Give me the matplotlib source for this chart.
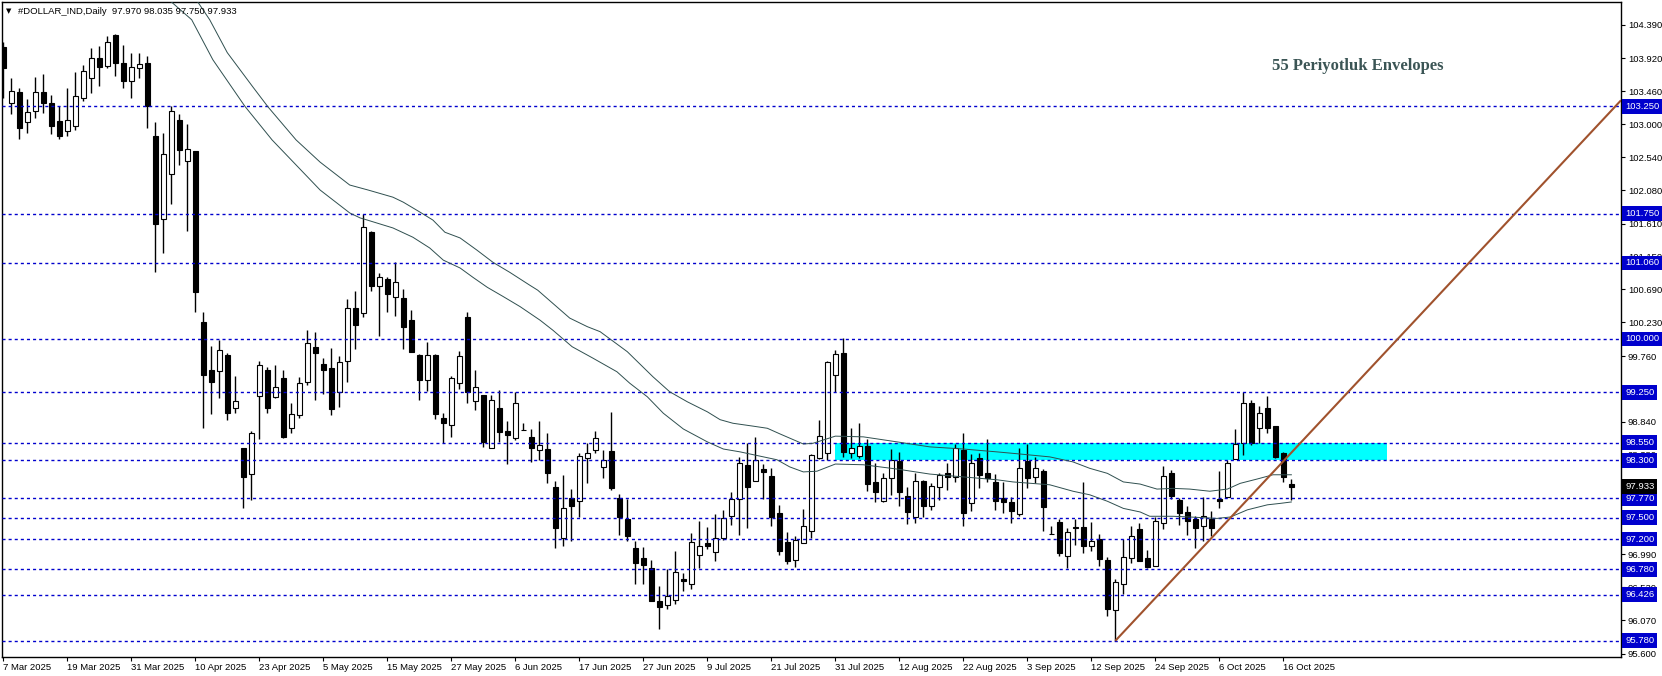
"""
DOLLAR_IND daily candles with 55-period envelopes,
support/resistance levels, a supply box and a rising trend line.
Saves out.png
"""

import matplotlib
matplotlib.use("Agg")
import matplotlib.pyplot as plt
from matplotlib.patches import Rectangle


# ---------- Data ----------
opens = [
    104.08, 103.29, 103.45, 103.03, 103.18, 103.45, 103.29, 103.04, 102.90, 102.98,
    103.36, 103.64, 103.93, 103.82, 104.24, 103.86, 103.61, 103.78, 103.85, 102.84,
    101.67, 102.30, 103.06, 102.48, 102.62, 100.23, 99.57, 99.55, 99.77, 99.03,
    98.47, 98.11, 99.20, 99.56, 99.19, 99.45, 98.75, 98.93, 99.39, 99.88,
    99.65, 99.59, 99.25, 99.69, 100.43, 100.36, 101.49, 100.74, 100.83, 100.58,
    100.57, 100.26, 99.77, 99.43, 99.77, 98.89, 98.79, 99.38, 100.31, 99.13,
    99.22, 98.48, 99.04, 98.71, 98.61, 98.72, 98.63, 98.45, 98.46, 97.93,
    97.22, 97.78, 97.74, 98.34, 98.44, 98.21, 98.43, 97.78, 97.48, 97.08,
    96.94, 96.79, 96.33, 96.28, 96.35, 96.64, 96.58, 96.98, 97.14, 97.02,
    97.21, 97.52, 97.76, 98.24, 98.01, 98.18, 98.08, 97.56, 97.16, 96.91,
    97.15, 97.31, 98.33, 98.40, 99.49, 99.80, 98.40, 98.36, 98.50, 98.00,
    97.74, 98.05, 98.29, 97.81, 97.51, 98.01, 97.66, 97.93, 98.13, 98.07,
    98.45, 97.70, 98.34, 98.12, 98.00, 97.77, 97.72, 97.55, 98.29, 98.07,
    98.15, 97.27, 97.44, 96.96, 97.37, 97.37, 97.11, 97.20, 96.91, 96.21,
    96.57, 96.93, 97.34, 96.93, 96.82, 97.42, 98.13, 97.75, 97.58, 97.48,
    97.38, 97.48, 97.76, 97.79, 98.32, 98.54, 99.10, 98.75, 99.03, 98.78,
    98.41, 97.970,
]
highs = [
    104.15, 103.64, 103.50, 103.35, 103.66, 103.70, 103.41, 103.25, 103.50, 103.73,
    103.83, 104.07, 104.09, 104.23, 104.26, 104.11, 104.00, 104.00, 103.95, 103.03,
    102.88, 103.25, 103.14, 103.00, 102.63, 100.37, 99.90, 99.98, 99.80, 99.48,
    98.47, 98.71, 99.69, 99.61, 99.64, 99.57, 99.11, 99.46, 100.13, 100.09,
    99.73, 99.87, 99.76, 100.56, 100.67, 101.75, 101.51, 100.92, 100.86, 101.07,
    100.70, 100.40, 99.79, 99.96, 99.79, 98.96, 99.48, 99.83, 100.37, 99.56,
    99.22, 99.22, 99.28, 98.85, 99.26, 98.82, 98.74, 98.85, 98.69, 98.01,
    98.10, 97.90, 98.40, 98.55, 98.71, 98.44, 98.98, 97.83, 97.76, 97.18,
    97.09, 96.91, 96.55, 96.78, 97.04, 96.73, 97.28, 97.45, 97.37, 97.55,
    97.61, 97.86, 98.35, 98.55, 98.63, 98.25, 98.19, 97.68, 97.30, 97.24,
    97.62, 98.39, 98.87, 99.69, 99.84, 100.01, 98.75, 98.83, 98.60, 98.26,
    98.13, 98.46, 98.42, 97.93, 98.13, 98.02, 97.99, 98.13, 98.26, 98.53,
    98.68, 98.39, 98.41, 98.60, 98.11, 98.00, 97.79, 98.48, 98.53, 98.35,
    98.18, 97.38, 97.48, 97.36, 97.48, 98.00, 97.44, 97.27, 96.95, 96.64,
    97.20, 97.39, 97.42, 97.05, 97.51, 98.22, 98.17, 97.77, 97.67, 97.52,
    97.79, 97.60, 98.15, 98.31, 98.74, 99.25, 99.14, 99.06, 99.20, 98.78,
    98.42, 98.035,
]
lows = [
    103.36, 103.14, 102.79, 102.88, 103.09, 103.16, 102.87, 102.79, 102.84, 102.92,
    103.33, 103.43, 103.54, 103.78, 103.68, 103.50, 103.36, 103.64, 102.95, 100.93,
    101.20, 101.88, 102.43, 101.51, 100.38, 98.75, 98.95, 99.18, 98.87, 98.97,
    97.63, 97.75, 98.60, 98.96, 99.18, 98.61, 98.68, 98.89, 99.36, 99.15,
    99.23, 98.93, 99.05, 99.39, 99.86, 100.30, 100.67, 100.04, 100.38, 100.32,
    99.86, 99.82, 99.15, 99.27, 98.88, 98.54, 98.63, 99.30, 99.10, 99.01,
    98.49, 98.48, 98.56, 98.25, 98.59, 98.72, 98.28, 98.31, 97.98, 97.08,
    97.11, 97.18, 97.51, 97.98, 98.40, 98.06, 97.89, 97.26, 97.18, 96.57,
    96.57, 96.34, 95.95, 96.23, 96.30, 96.47, 96.51, 96.79, 97.06, 96.90,
    97.19, 97.40, 97.26, 97.35, 98.01, 97.76, 97.38, 96.98, 96.85, 96.81,
    97.14, 97.21, 98.32, 98.30, 99.25, 98.35, 98.34, 98.33, 97.88, 97.72,
    97.72, 97.82, 97.67, 97.41, 97.42, 97.51, 97.61, 97.75, 97.89, 98.00,
    97.38, 97.59, 97.92, 98.00, 97.61, 97.56, 97.42, 97.52, 97.91, 97.98,
    97.31, 97.27, 96.96, 96.79, 97.12, 97.01, 97.04, 96.82, 96.13, 95.78,
    96.43, 96.86, 96.90, 96.79, 96.82, 97.34, 97.76, 97.40, 97.26, 97.08,
    97.17, 97.25, 97.64, 97.79, 98.32, 98.38, 98.52, 98.54, 98.69, 98.34,
    98.00, 97.750,
]
closes = [
    103.79, 103.47, 102.95, 103.17, 103.45, 103.30, 102.98, 102.83, 103.06, 103.39,
    103.75, 103.92, 103.80, 104.15, 103.85, 103.60, 103.80, 103.84, 103.25, 101.60,
    102.58, 103.18, 102.64, 102.66, 100.65, 99.50, 99.40, 99.85, 98.97, 99.13,
    98.07, 98.68, 99.64, 99.03, 99.32, 98.63, 98.95, 99.38, 99.94, 99.80,
    99.56, 99.02, 99.67, 100.43, 100.20, 101.56, 100.74, 100.86, 100.62, 100.79,
    100.17, 99.82, 99.42, 99.78, 98.95, 98.83, 99.45, 99.76, 99.25, 99.33,
    98.56, 99.15, 98.70, 98.65, 99.11, 98.72, 98.48, 98.52, 98.12, 97.35,
    97.63, 97.66, 98.36, 98.40, 98.61, 98.30, 97.92, 97.51, 97.24, 96.87,
    96.84, 96.34, 96.25, 96.41, 96.74, 96.61, 97.16, 97.10, 97.10, 97.21,
    97.50, 97.76, 98.27, 97.93, 98.31, 98.14, 97.51, 97.04, 96.89, 97.19,
    97.38, 98.38, 98.64, 99.68, 99.79, 98.42, 98.48, 98.50, 97.97, 97.86,
    98.05, 98.30, 97.86, 97.58, 98.01, 97.66, 97.95, 98.10, 98.07, 98.48,
    97.56, 98.27, 98.09, 98.05, 97.74, 97.72, 97.60, 98.20, 98.05, 98.19,
    97.65, 97.27, 97.00, 97.30, 97.36, 97.10, 97.17, 96.92, 96.23, 96.60,
    96.95, 97.25, 96.90, 96.81, 97.46, 98.08, 97.81, 97.57, 97.46, 97.36,
    97.53, 97.36, 97.74, 98.26, 98.53, 99.10, 98.54, 98.96, 98.76, 98.35,
    98.07, 97.933,
]

# envelope lines (bar position, price)
env_upper_x = [23.6, 24.3, 25.8, 28.0, 31.2, 33.1, 36.6, 39.6, 43.3, 45.6,
               48.7, 50.0, 52.1, 53.7, 55.2, 57.1, 59.2, 61.2, 63.3, 65.8,
               66.8, 70.8, 73.0, 74.6, 78.0, 81.2, 83.3, 85.5, 88.0, 89.6,
               91.2, 93.7, 95.5, 97.1, 100.0, 101.2, 104.0, 107.5, 111.7, 115.8,
               120.0, 124.2, 127.1, 130.8, 133.7, 135.8, 138.0, 140.0, 142.1, 144.2,
               146.2, 148.3, 150.8, 153.0, 154.6, 156.7, 158.7, 161.0]
env_upper = [104.81, 104.71, 104.46, 104.00, 103.52, 103.24, 102.78, 102.47, 102.15, 102.08,
             101.98, 101.91, 101.77, 101.66, 101.49, 101.41, 101.24, 101.07, 100.93, 100.75,
             100.68, 100.29, 100.17, 100.10, 99.82, 99.47, 99.26, 99.12, 98.98, 98.87,
             98.82, 98.78, 98.75, 98.67, 98.53, 98.54, 98.64, 98.63, 98.56, 98.49,
             98.46, 98.42, 98.39, 98.35, 98.28, 98.19, 98.12, 98.00, 97.97, 97.90,
             97.91, 97.90, 97.87, 97.90, 97.98, 98.04, 98.10, 98.10]
env_lower_x = [20.2, 21.0, 23.55, 26.2, 30.2, 33.6, 39.6, 43.3, 44.6, 45.5,
               48.7, 51.2, 53.3, 55.0, 57.1, 58.7, 60.5, 62.5, 64.6, 67.1,
               68.7, 71.1, 73.7, 76.7, 78.3, 80.5, 82.5, 85.0, 88.0, 90.0,
               92.1, 94.6, 96.7, 98.3, 100.0, 101.7, 104.0, 107.5, 111.7, 115.8,
               120.0, 124.2, 126.2, 130.8, 133.7, 135.8, 138.0, 140.0, 142.1, 143.3,
               146.2, 148.3, 151.7, 153.4, 155.5, 158.0, 159.6, 161.0]
env_lower = [104.81, 104.71, 104.46, 103.90, 103.25, 102.78, 102.08, 101.76, 101.69, 101.66,
             101.55, 101.42, 101.27, 101.10, 100.99, 100.86, 100.72, 100.59, 100.45, 100.26,
             100.12, 99.89, 99.73, 99.54, 99.38, 99.19, 98.96, 98.74, 98.56, 98.46,
             98.42, 98.36, 98.31, 98.21, 98.14, 98.15, 98.25, 98.24, 98.18, 98.11,
             98.07, 98.03, 98.00, 97.96, 97.87, 97.82, 97.73, 97.63, 97.58, 97.52,
             97.52, 97.51, 97.49, 97.51, 97.61, 97.68, 97.70, 97.72]

levels = [103.25, 101.75, 101.06, 100.00, 99.25, 98.55, 98.30, 97.77, 97.50,
          97.20, 96.78, 96.426, 95.78]
level_labels = ["103.250", "101.750", "101.060", "100.000", "99.250", "98.550",
                "98.300", "97.770", "97.500", "97.200", "96.780", "96.426", "95.780"]

price_ticks = [104.39, 103.92, 103.46, 103.00, 102.54, 102.08, 101.61, 101.15, 100.69,
               100.23, 99.76, 99.30, 98.84, 98.38, 97.92, 97.45, 96.99, 96.53, 96.07, 95.60]

date_labels = ["7 Mar 2025", "19 Mar 2025", "31 Mar 2025", "10 Apr 2025", "23 Apr 2025",
               "5 May 2025", "15 May 2025", "27 May 2025", "6 Jun 2025", "17 Jun 2025",
               "27 Jun 2025", "9 Jul 2025", "21 Jul 2025", "31 Jul 2025", "12 Aug 2025",
               "22 Aug 2025", "3 Sep 2025", "12 Sep 2025", "24 Sep 2025", "6 Oct 2025",
               "16 Oct 2025"]

box_bars = (104, 173)          # supply zone, bar span
box_prices = (98.30, 98.55)
trend_a = (139, 95.78)         # trend line anchors (bar, price)
trend_b = (160, 98.29)
last_price = 97.933
title = "#DOLLAR_IND,Daily  97.970 98.035 97.750 97.933"


# ---------- Config ----------
W, H, DPI = 1662, 676, 100
BLUE = "#0000CD"
ENV_COLOR = "#2F4F4F"
TREND_COLOR = "#A0522D"
FONT = "Liberation Sans"
XMIN, XMAX = -0.16, 202.2
YMIN, YMAX = 95.553, 104.708


def draw_candles(ax):
    idx = list(range(len(opens)))
    ax.vlines(idx, lows, highs, colors="black", linewidth=1, zorder=2)
    bw = 0.6
    for i, (o, c) in enumerate(zip(opens, closes)):
        face = "white" if c >= o else "black"
        ax.add_patch(Rectangle((i - bw / 2, min(o, c)), bw, abs(c - o),
                               facecolor=face, edgecolor="black", linewidth=0.8, zorder=3))


def draw_objects(ax):
    # supply zone in the background
    ax.add_patch(Rectangle((box_bars[0], box_prices[0]), box_bars[1] - box_bars[0],
                           box_prices[1] - box_prices[0], facecolor="#00FFFF",
                           edgecolor="none", zorder=0.5))
    for lv in levels:
        ax.axhline(lv, color=BLUE, linewidth=1, linestyle=(0, (2.2, 2.2)), zorder=4)

    ax.plot(env_upper_x, env_upper, color=ENV_COLOR, linewidth=0.7, zorder=4)
    ax.plot(env_lower_x, env_lower, color=ENV_COLOR, linewidth=0.7, zorder=4)

    # trend line drawn as a ray to the right edge
    slope = (trend_b[1] - trend_a[1]) / (trend_b[0] - trend_a[0])
    x_end = XMAX
    ax.plot([trend_a[0], x_end], [trend_a[1], trend_a[1] + slope * (x_end - trend_a[0])],
            color=TREND_COLOR, linewidth=1.5, zorder=5, solid_capstyle="butt")


def style_axes(ax):
    ax.set_xlim(XMIN, XMAX)
    ax.set_ylim(YMIN, YMAX)
    for s in ax.spines.values():
        s.set_color("black")
        s.set_linewidth(1)

    ax.yaxis.tick_right()
    ax.set_yticks(price_ticks)
    ax.set_yticklabels([f"{v:.3f}" for v in price_ticks])
    ax.tick_params(axis="y", length=3, pad=2, labelsize=6.8, colors="black")

    ax.set_xticks(range(0, 8 * len(date_labels), 8))
    ax.set_xticklabels(date_labels)
    ax.tick_params(axis="x", length=3, pad=1.5, labelsize=6.8)
    for lbl in ax.get_xticklabels() + ax.get_yticklabels():
        lbl.set_fontfamily(FONT)
    for lbl in ax.get_xticklabels():
        lbl.set_horizontalalignment("left")

    # price boxes on the right scale
    ytr = ax.get_yaxis_transform()
    for lv, txt in zip(levels, level_labels):
        ax.annotate(txt, xy=(1, lv), xycoords=ytr, xytext=(3, 0), textcoords="offset points",
                    ha="left", va="center", fontsize=6.8, family=FONT, color="white",
                    bbox=dict(boxstyle="square,pad=0.3", fc=BLUE, ec="none"),
                    annotation_clip=False, zorder=10)
    ax.annotate(f"{last_price:.3f}", xy=(1, last_price), xycoords=ytr, xytext=(3, 0),
                textcoords="offset points", ha="left", va="center", fontsize=6.8,
                family=FONT, color="white",
                bbox=dict(boxstyle="square,pad=0.3", fc="black", ec="none"),
                annotation_clip=False, zorder=10)


# ---------- Main ----------
def main():
    fig = plt.figure(figsize=(W / DPI, H / DPI), dpi=DPI)
    fig.patch.set_facecolor("white")
    ax = fig.add_axes([2 / W, (H - 657) / H, (1621 - 2) / W, (657 - 2) / H])

    draw_objects(ax)
    draw_candles(ax)
    style_axes(ax)

    fig.text(6 / W, 1 - 11 / H, "▼", fontsize=5, va="center", ha="left", family="DejaVu Sans")
    fig.text(18 / W, 1 - 11 / H, title, fontsize=6.8, va="center", ha="left", family=FONT)
    fig.text(1358 / W, 1 - 66 / H, "55 Periyotluk Envelopes", fontsize=12,
             fontweight="bold", color="#3B5555", family="Liberation Serif",
             ha="center", va="center")

    fig.savefig("out.png", dpi=DPI)
    plt.close(fig)


if __name__ == "__main__":
    main()
